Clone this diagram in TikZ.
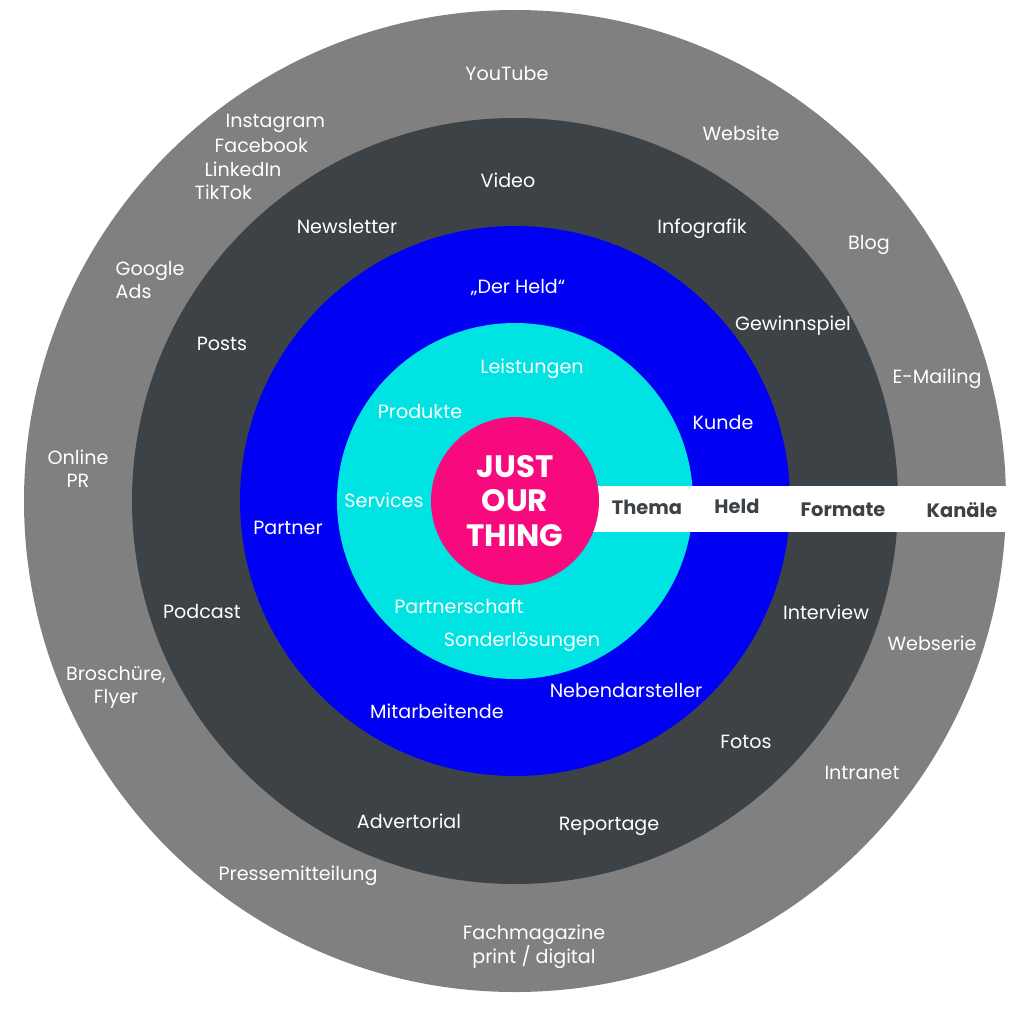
\documentclass[tikz,border=0pt]{standalone}
\usepackage{fontspec}
\setmainfont{Poppins}
\definecolor{ringgrey}{HTML}{808080}
\definecolor{ringdark}{HTML}{3D4247}
\definecolor{ringblue}{HTML}{0000F2}
\definecolor{ringcyan}{HTML}{00E3E3}
\definecolor{corepink}{HTML}{F70A7D}
\begin{document}
\begin{tikzpicture}[x=0.025cm,y=-0.025cm,
  ring label/.style={text=white,font=\fontsize{13.6}{16.4}\selectfont,inner sep=1pt,align=center},
  band label/.style={text=ringdark,font=\fontsize{13.8}{16}\selectfont\bfseries,inner sep=1pt},
  core label/.style={text=white,font=\fontsize{22}{24.5}\selectfont\bfseries,align=center}]
  \useasboundingbox (0,0) rectangle (1024,1017);
  \coordinate (c) at (515,501);

  % rings from outside in
  \fill[ringgrey] (c) circle (491);
  \fill[ringdark] (c) circle (383);
  \fill[ringblue] (c) circle (275);
  \fill[ringcyan] (c) circle (178);
  \fill[white] (560,486) rectangle (1024,532);
  \node[circle,fill=corepink,minimum size=168*0.025cm,inner sep=0pt] (core) at (515,501) {};
  \node[core label] (thing) at (core) {JUST\\OUR\\THING};

  % band
  \node[band label] (thema) at (647,507) {Thema};
  \node[band label] (held) at (737,506) {Held};
  \node[band label] (formate) at (843,510) {Formate};
  \node[band label] (kanaele) at (962,510) {Kanäle};

  % cyan ring
  \node[ring label] (leistungen) at (532,369) {Leistungen};
  \node[ring label] (produkte) at (420,412) {Produkte};
  \node[ring label] (services) at (384,500) {Services};
  \node[ring label] (partnerschaft) at (459,606) {Partnerschaft};
  \node[ring label] (sonder) at (522,642) {Sonderlösungen};

  % blue ring
  \node[ring label] (derheld) at (518,287) {„Der Held“};
  \node[ring label] (kunde) at (723,423) {Kunde};
  \node[ring label] (partner) at (288,528) {Partner};
  \node[ring label] (neben) at (626,691) {Nebendarsteller};
  \node[ring label] (mitarb) at (437,711) {Mitarbeitende};

  % dark ring
  \node[ring label] (video) at (508,180) {Video};
  \node[ring label] (newsletter) at (347,227) {Newsletter};
  \node[ring label] (infografik) at (702,229) {Infografik};
  \node[ring label] (posts) at (222,344) {Posts};
  \node[ring label] (gewinnspiel) at (793,326) {Gewinnspiel};
  \node[ring label] (podcast) at (202,612) {Podcast};
  \node[ring label] (interview) at (826,612) {Interview};
  \node[ring label] (fotos) at (746,742) {Fotos};
  \node[ring label] (advertorial) at (409,821) {Advertorial};
  \node[ring label] (reportage) at (609,826) {Reportage};

  % grey ring
  \node[ring label] (youtube) at (507,74) {YouTube};
  \node[ring label,anchor=west] (instagram) at (224,123) {Instagram};
  \node[ring label,anchor=west] (facebook) at (213,146) {Facebook};
  \node[ring label,anchor=west] (linkedin) at (203,169) {LinkedIn};
  \node[ring label,anchor=west] (tiktok) at (193,192) {TikTok};
  \node[ring label] (website) at (741,133) {Website};
  \node[ring label] (blog) at (869,245) {Blog};
  \node[ring label,align=left,anchor=west] (google) at (114,280) {Google\\Ads};
  \node[ring label] (email) at (937,379) {E-Mailing};
  \node[ring label] (online) at (78,469) {Online\\PR};
  \node[ring label] (webserie) at (932,643) {Webserie};
  \node[ring label] (broschuere) at (116,687) {Broschüre,\\Flyer};
  \node[ring label] (intranet) at (862,773) {Intranet};
  \node[ring label] (presse) at (298,876) {Pressemitteilung};
  \node[ring label] (fach) at (534,947) {Fachmagazine\\print / digital};
\end{tikzpicture}
\end{document}
